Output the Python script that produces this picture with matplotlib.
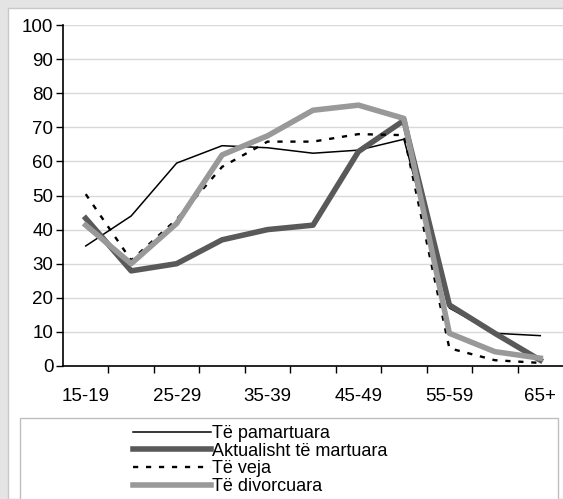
import matplotlib.pyplot as plt
from matplotlib.patches import Rectangle
import numpy as np

plt.rcParams['font.family'] = ['Liberation Sans', 'DejaVu Sans']

# age groups
grupmosha = ['15-19', '20-24', '25-29', '30-34', '35-39', '40-44',
             '45-49', '50-54', '55-59', '60-64', '65+']

pamartuara = [35.2, 44.0, 59.5, 64.6, 64.0, 62.4, 63.3, 66.5, 17.0, 9.6, 8.9]
martuara = [43.3, 27.9, 30.0, 37.0, 40.0, 41.3, 62.9, 72.0, 17.9, 9.6, 1.7]
veja = [50.4, 31.0, 43.0, 58.4, 65.8, 65.8, 68.0, 67.7, 5.2, 1.7, 0.9]
divorcuara = [41.3, 30.0, 41.8, 61.9, 67.5, 75.0, 76.5, 72.6, 9.6, 4.2, 2.3]

labels = ['Të pamartuara', 'Aktualisht të martuara', 'Të veja', 'Të divorcuara']

W, H = 563, 499
fig = plt.figure(figsize=(W / 100, H / 100), dpi=100)

# grey frame like the original export
fig.patches.append(Rectangle((0, 0), 1, 1, transform=fig.transFigure,
                             facecolor='#e4e4e4', edgecolor='none', zorder=-10))
fig.patches.append(Rectangle((8 / W, 0), 1, 1 - 8 / H, transform=fig.transFigure,
                             facecolor='white', edgecolor='#c8c8c8', lw=1, zorder=-9))

ax = fig.add_axes([63 / W, 1 - 366 / H, 500 / W, (366 - 25) / H])
x = np.arange(len(grupmosha))

l1, = ax.plot(x, pamartuara, color='black', lw=1.1)
l2, = ax.plot(x, martuara, color='#595959', lw=4.0, solid_joinstyle='round')
l3, = ax.plot(x, veja, color='black', lw=1.7, dashes=(2.2, 3.3))
l4, = ax.plot(x, divorcuara, color='#999999', lw=4.0, solid_joinstyle='round')

ax.set_xlim(-0.5, 10.5)
ax.set_ylim(0, 100)
ax.set_yticks(range(0, 101, 10))
ax.yaxis.grid(True, color='#d9d9d9', lw=1)
ax.set_axisbelow(True)
ax.set_xticks(x[::2])
ax.set_xticklabels(grupmosha[::2])
ax.set_xticks(np.arange(0.5, 10.5, 1), minor=True)
ax.tick_params(axis='x', which='major', length=0, pad=16, labelsize=13.5)
ax.tick_params(axis='x', which='minor', length=5, width=1, direction='out')
ax.tick_params(axis='y', length=5, width=1, labelsize=13.5, pad=2)
for s in ['top', 'right']:
    ax.spines[s].set_visible(False)
ax.spines['left'].set_linewidth(1.2)
ax.spines['bottom'].set_linewidth(1.2)
ax.set_facecolor('white')

# legend box
fig.patches.append(Rectangle((20 / W, 1 - 500 / H), 538 / W, 82 / H, transform=fig.transFigure,
                             facecolor='white', edgecolor='#bfbfbf', lw=1))
fig.legend([l1, l2, l3, l4], labels, loc='upper left',
           bbox_to_anchor=(133 / W, 1 - 425 / H), frameon=False,
           fontsize=13, labelspacing=0.04, handlelength=4.3, handletextpad=0.1,
           borderpad=0, borderaxespad=0)

fig.savefig('out.png', dpi=100)
